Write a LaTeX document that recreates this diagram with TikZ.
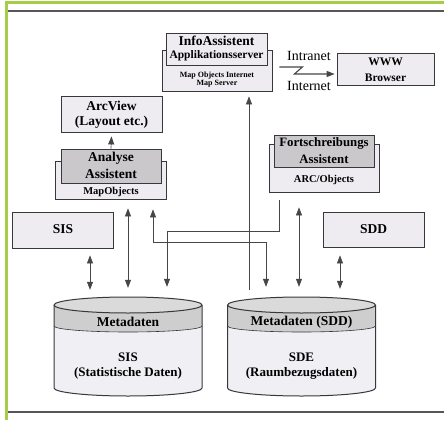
\documentclass[tikz,border=0pt]{standalone}
\usepackage{fontspec}
\setmainfont{Liberation Serif}
\usetikzlibrary{arrows.meta,calc}
\definecolor{boxfill}{RGB}{239,236,241}
\definecolor{darkfill}{RGB}{203,200,204}
\definecolor{edgec}{RGB}{55,55,60}
\definecolor{linec}{RGB}{70,70,70}
\definecolor{bandc}{RGB}{206,206,206}
\definecolor{topc}{RGB}{218,218,218}
\definecolor{cylbody}{RGB}{240,239,243}
\definecolor{frameg}{RGB}{165,205,70}
\definecolor{framec}{RGB}{85,85,90}
\begin{document}
\begin{tikzpicture}[x=1pt,y=-1pt,
  box/.style={draw=edgec, fill=boxfill, line width=0.8pt, inner sep=0pt},
  darkbox/.style={draw=edgec, fill=darkfill, line width=0.8pt, inner sep=0pt},
  tl/.style={font=\fontsize{13.5}{15}\selectfont\bfseries, inner sep=0pt},
  tlf/.style={font=\fontsize{12.8}{15}\selectfont\bfseries, inner sep=0pt},
  tm/.style={font=\fontsize{11.5}{13}\selectfont\bfseries, inner sep=0pt},
  ts/.style={font=\fontsize{10.5}{12}\selectfont\bfseries, inner sep=0pt},
  txs/.style={font=\fontsize{8}{9}\selectfont\bfseries, inner sep=0pt},
  tr/.style={font=\fontsize{14}{15}\selectfont, inner sep=0pt},
  tc/.style={font=\fontsize{13}{15}\selectfont\bfseries, inner sep=0pt},
  conn/.style={draw=linec, line width=0.7pt},
  arr/.style={conn, -{Triangle[length=8pt,width=6pt]}},
  dblarr/.style={conn, {Triangle[length=8pt,width=6pt]}-{Triangle[length=8pt,width=6pt]}},
  ghost/.style={inner sep=0pt}]
\useasboundingbox (0,0) rectangle (444,420);
\fill[white] (0,0) rectangle (444,420);
% frame
\draw[frameg, line width=3pt] (6,420) -- (6,3) -- (444,3);
\draw[framec, line width=1.2pt] (8,11) -- (444,11);
\draw[framec, line width=1.2pt] (8,412) -- (444,412);

% InfoAssistent
\node[box, minimum width=110pt, minimum height=41pt] (infoback) at (217,70.5) {};
\node[box, minimum width=101pt, minimum height=32pt] (infofront) at (216.5,49) {};
\node[tl] (infot1) at (216.5,41) {InfoAssistent};
\node[tm] (infot2) at (216.5,56) {Applikationsserver};
\node[txs] (infot3) at (217,76) {Map Objects Internet};
\node[txs] (infot4) at (217,84) {Map Server};

% WWW Browser
\node[box, minimum width=97pt, minimum height=32pt] (www) at (385.5,69) {};
\node[tm] (wwwt1) at (385.5,62) {WWW};
\node[tm] (wwwt2) at (385.5,78) {Browser};

% Intranet / Internet
\node[tr] (intra) at (309,56) {Intranet};
\node[tr] (inter) at (309,86) {Internet};

% ArcView
\node[box, minimum width=101pt, minimum height=36pt] (arcview) at (111.5,114) {};
\node[tl] (arct1) at (111.5,106) {ArcView};
\node[tl] (arct2) at (111.5,122) {(Layout etc.)};

% Analyse Assistent
\node[box, minimum width=111pt, minimum height=38pt] (anaback) at (110.5,180) {};
\node[darkbox, minimum width=100pt, minimum height=34pt] (anafront) at (111,166) {};
\node[tl] (anat1) at (111,158) {Analyse};
\node[tl] (anat2) at (111,174) {Assistent};
\node[ts] (anat3) at (111,192) {MapObjects};

% Fortschreibungs Assistent
\node[box, minimum width=110pt, minimum height=48pt] (fortback) at (324,168) {};
\node[darkbox, minimum width=100pt, minimum height=32pt] (fortfront) at (324,151) {};
\node[tlf] (fortt1) at (324,143) {Fortschreibungs};
\node[tlf] (fortt2) at (324,159) {Assistent};
\node[ts] (fortt3) at (324,180) {ARC/Objects};

% SIS and SDD boxes
\node[box, minimum width=101pt, minimum height=36pt] (sisbox) at (63,230) {};
\node[tl] (sist) at (63,229) {SIS};
\node[box, minimum width=101pt, minimum height=35pt] (sddbox) at (373.5,229.5) {};
\node[tl] (sddt) at (373.5,229) {SDD};

% cylinders
\foreach \cx in {128,301.5} {
  \fill[cylbody] ({\cx-74},305) -- ({\cx-74},388)
     .. controls ({\cx-74},392.42) and ({\cx-40.87},396) .. (\cx,396)
     .. controls ({\cx+40.87},396) and ({\cx+74},392.42) .. ({\cx+74},388)
     -- ({\cx+74},305) -- cycle;
  \fill[bandc] ({\cx-74},305) -- ({\cx-74},326)
     .. controls ({\cx-74},329.31) and ({\cx-40.87},332) .. (\cx,332)
     .. controls ({\cx+40.87},332) and ({\cx+74},329.31) .. ({\cx+74},326)
     -- ({\cx+74},305) -- cycle;
  \draw[edgec, line width=0.6pt] ({\cx-74},326)
     .. controls ({\cx-74},329.31) and ({\cx-40.87},332) .. (\cx,332)
     .. controls ({\cx+40.87},332) and ({\cx+74},329.31) .. ({\cx+74},326);
  \draw[edgec, line width=1pt, fill=topc] (\cx,305) ellipse [x radius=74pt, y radius=8pt];
  \draw[edgec, line width=1pt] ({\cx-74},305) -- ({\cx-74},388)
     .. controls ({\cx-74},392.42) and ({\cx-40.87},396) .. (\cx,396)
     .. controls ({\cx+40.87},396) and ({\cx+74},392.42) .. ({\cx+74},388)
     -- ({\cx+74},305);
}
\node[ghost, minimum width=148pt, minimum height=99pt] (sisdb) at (128,346.5) {};
\node[ghost, minimum width=148pt, minimum height=99pt] (sdedb) at (301.5,346.5) {};
\node[tl] (sisdbt1) at (128,322) {Metadaten};
\node[tc] (sisdbt2) at (128,357) {SIS};
\node[tc] (sisdbt3) at (128,373) {(Statistische Daten)};
\node[tl] (sdedbt1) at (301.5,322) {Metadaten (SDD)};
\node[tc] (sdedbt2) at (301.5,357) {SDE};
\node[tc] (sdedbt3) at (301.5,373) {(Raumbezugsdaten)};

% connectors
\draw[arr] (anafront.north) -- ([yshift=-4pt]arcview.south);
\draw[dblarr] ($(anaback.south)+(17.5,9)$) -- ($(sisdb.north)+(0,-9)$);
\draw[dblarr] ($(anaback.south)+(42.5,10)$) |- ($(sdedb.north)+(-35.5,-54)$) -- ($(sdedb.north)+(-35.5,-10)$);
\draw[arr] ($(fortback.south)+(-45,8)$) |- ($(sisdb.north)+(39,-65)$) -- ($(sisdb.north)+(39,-10)$);
\draw[dblarr] ($(fortback.south)+(-25,15)$) -- ($(sdedb.north)+(-2.5,-10)$);
\draw[dblarr] ($(sisbox.south)+(27,7)$) -- ($(sisdb.north)+(-38,-7)$);
\draw[dblarr] ($(sddbox.south)+(-33.5,8)$) -- ($(sdedb.north)+(38.5,-8)$);
\draw[arr] ($(sdedb.north)+(-52.5,-7)$) -- ($(infoback.south)+(32,5)$);
\draw[conn, line width=1.1pt, -{Triangle[length=8pt,width=6pt]}] ($(infoback.east)+(7,-3.5)$) -- ++(23,0) -- ++(-8,7) -- ($(www.west)+(-2,5)$);
\end{tikzpicture}
\end{document}
